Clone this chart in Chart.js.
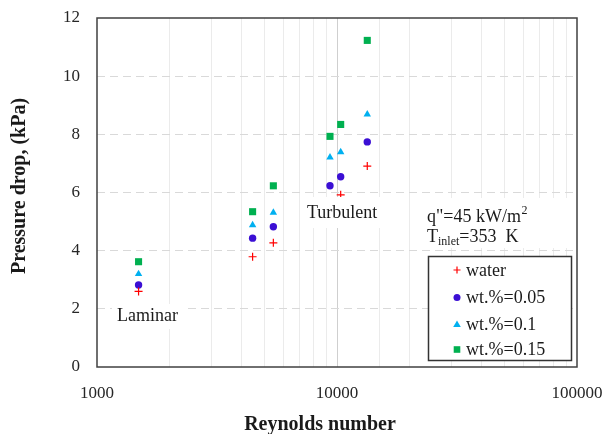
<!DOCTYPE html>
<html>
<head>
<meta charset="utf-8">
<script src="https://cdn.jsdelivr.net/npm/chart.js@4.4.1/dist/chart.umd.min.js"></script>
<style>
  html, body { margin: 0; padding: 0; background: #fff; }
  #wrap { width: 604px; height: 434px; }
</style>
</head>
<body>
<div id="wrap"><canvas id="dpChart" width="604" height="434"></canvas></div>
<script>
// Reynolds numbers of the test runs (shared by all series)
const reynolds = [1490, 4450, 5430, 9350, 10360, 13370];
// Pressure drop (kPa)
const water = [2.6, 3.79, 4.27, null, 5.92, 6.91];
const wt005 = [2.82, 4.43, 4.82, 6.23, 6.54, 7.74];
const wt010 = [3.2, 4.88, 5.31, 7.21, 7.39, 8.69];
const wt015 = [3.62, 5.34, 6.23, 7.93, 8.34, 11.23];
const seriesLabels = ['water', 'wt.%=0.05', 'wt.%=0.1', 'wt.%=0.15'];
const xTickLabels = [1000, 10000, 100000];
const yTicks = [0, 2, 4, 6, 8, 10, 12];

const serif = "'Liberation Serif', 'DejaVu Serif', serif";
const textColor = '#1a1a1a';
const colors = ['#ff0000', '#3b0fd4', '#00b0f0', '#00b050'];

function toPoints(vals) {
  return reynolds.map((x, i) => ({ x: x, y: vals[i] }));
}

// small marker for the hand-drawn legend
function drawMarker(ctx, kind, x, y, color) {
  ctx.save();
  ctx.fillStyle = color;
  ctx.strokeStyle = color;
  ctx.lineWidth = 1.2;
  ctx.beginPath();
  if (kind === 'cross') {
    ctx.moveTo(x - 3.5, y); ctx.lineTo(x + 3.5, y);
    ctx.moveTo(x, y - 3.5); ctx.lineTo(x, y + 3.5);
    ctx.stroke();
  } else if (kind === 'circle') {
    ctx.arc(x, y, 3.5, 0, Math.PI * 2);
    ctx.fill();
  } else if (kind === 'triangle') {
    ctx.moveTo(x, y - 4); ctx.lineTo(x + 3.8, y + 2.6); ctx.lineTo(x - 3.8, y + 2.6);
    ctx.closePath();
    ctx.fill();
  } else {
    ctx.rect(x - 3.3, y - 3.3, 6.6, 6.6);
    ctx.fill();
  }
  ctx.restore();
}

function whiteBox(ctx, x, y, w, h) {
  ctx.save();
  ctx.fillStyle = '#ffffff';
  ctx.fillRect(x, y, w, h);
  ctx.restore();
}

const overlayPlugin = {
  id: 'overlay',
  afterDatasetsDraw(chart) {
    const ctx = chart.ctx;
    const a = chart.chartArea;
    ctx.save();

    // region labels
    ctx.font = '18px ' + serif;
    ctx.fillStyle = textColor;
    ctx.textBaseline = 'middle';
    ctx.textAlign = 'left';
    whiteBox(ctx, 112, 304, 74, 25);
    ctx.fillText('Laminar', 117, 316);
    whiteBox(ctx, 302, 197, 90, 31);
    ctx.fillText('Turbulent', 307, 213);

    // conditions
    whiteBox(ctx, 420, 198, 152, 50);
    ctx.fillText('q"=45 kW/m', 427, 217);
    let w = ctx.measureText('q"=45 kW/m').width;
    ctx.font = '12px ' + serif;
    ctx.fillText('2', 427 + w + 0.5, 211);
    ctx.font = '18px ' + serif;
    ctx.fillText('T', 427, 237);
    w = ctx.measureText('T').width;
    ctx.font = '12px ' + serif;
    ctx.fillText('inlet', 427 + w, 242);
    const w2 = ctx.measureText('inlet').width;
    ctx.font = '18px ' + serif;
    ctx.fillText('=353  K', 427 + w + w2, 237);

    // legend
    whiteBox(ctx, 428, 256, 144, 105);
    ctx.strokeStyle = '#333333';
    ctx.lineWidth = 1.5;
    ctx.strokeRect(428.5, 256.5, 143, 104);
    const rows = [270, 297.5, 324.5, 349.5];
    chart.data.datasets.forEach((ds, i) => {
      drawMarker(ctx, ds.pointStyle, 457, rows[i], ds.borderColor);
      ctx.fillStyle = textColor;
      ctx.font = '18px ' + serif;
      ctx.fillText(ds.label, 466, rows[i] + 1);
    });

    // plot frame
    ctx.strokeStyle = '#404040';
    ctx.lineWidth = 1.5;
    ctx.strokeRect(a.left, a.top, a.right - a.left, a.bottom - a.top);
    ctx.restore();
  },
  afterDraw(chart) {
    const ctx = chart.ctx;
    ctx.save();
    ctx.fillStyle = textColor;
    ctx.font = 'bold 20px ' + serif;
    ctx.textAlign = 'center';
    ctx.textBaseline = 'middle';
    ctx.fillText('Reynolds number', 320, 425);
    ctx.translate(20, 186);
    ctx.rotate(-Math.PI / 2);
    ctx.fillText('Pressure drop, (kPa)', 0, 0);
    ctx.restore();
  }
};

const styles = ['cross', 'circle', 'triangle', 'rect'];
const radii = [4, 3.7, 4.3, 5];
const values = [water, wt005, wt010, wt015];

new Chart(document.getElementById('dpChart'), {
  type: 'scatter',
  data: {
    datasets: values.map((vals, i) => ({
      label: seriesLabels[i],
      data: toPoints(vals),
      pointStyle: styles[i],
      pointRadius: radii[i],
      pointHoverRadius: radii[i],
      borderColor: colors[i],
      backgroundColor: colors[i],
      pointBorderWidth: i === 0 ? 1.2 : 0,
      showLine: false
    }))
  },
  options: {
    responsive: false,
    animation: false,
    events: [],
    layout: { padding: { top: 18, right: 27, left: 0, bottom: 0 } },
    plugins: {
      legend: { display: false },
      tooltip: { enabled: false }
    },
    scales: {
      x: {
        type: 'logarithmic',
        min: 1000,
        max: 100000,
        afterFit: (scale) => {
          scale.height = 67;
          scale.paddingLeft = 0;
          scale.paddingRight = 0;
        },
        border: { display: false },
        grid: {
          drawTicks: false,
          color: (c) => {
            const v = c.tick ? c.tick.value : 0;
            if (v <= 1000 || v >= 100000) return 'rgba(0,0,0,0)';
            return xTickLabels.includes(v) ? '#cfcfcf' : '#ebebeb';
          },
          lineWidth: 1
        },
        ticks: {
          autoSkip: false,
          maxRotation: 0,
          padding: 16,
          color: '#262626',
          font: { family: serif, size: 17 },
          callback: (v) => xTickLabels.includes(v) ? String(v) : ''
        }
      },
      y: {
        min: 0,
        max: 12,
        afterFit: (scale) => {
          scale.width = 97;
          scale.paddingTop = 0;
          scale.paddingBottom = 0;
        },
        afterBuildTicks: (scale) => { scale.ticks = yTicks.map(v => ({ value: v })); },
        border: { display: false, dash: [8, 5] },
        grid: {
          drawTicks: false,
          color: (c) => (c.tick && (c.tick.value === 0 || c.tick.value === 12)) ? 'rgba(0,0,0,0)' : '#d9d9d9',
          lineWidth: 1
        },
        ticks: {
          padding: 17,
          color: '#262626',
          font: { family: serif, size: 17 }
        }
      }
    }
  },
  plugins: [overlayPlugin]
});
</script>
</body>
</html>
